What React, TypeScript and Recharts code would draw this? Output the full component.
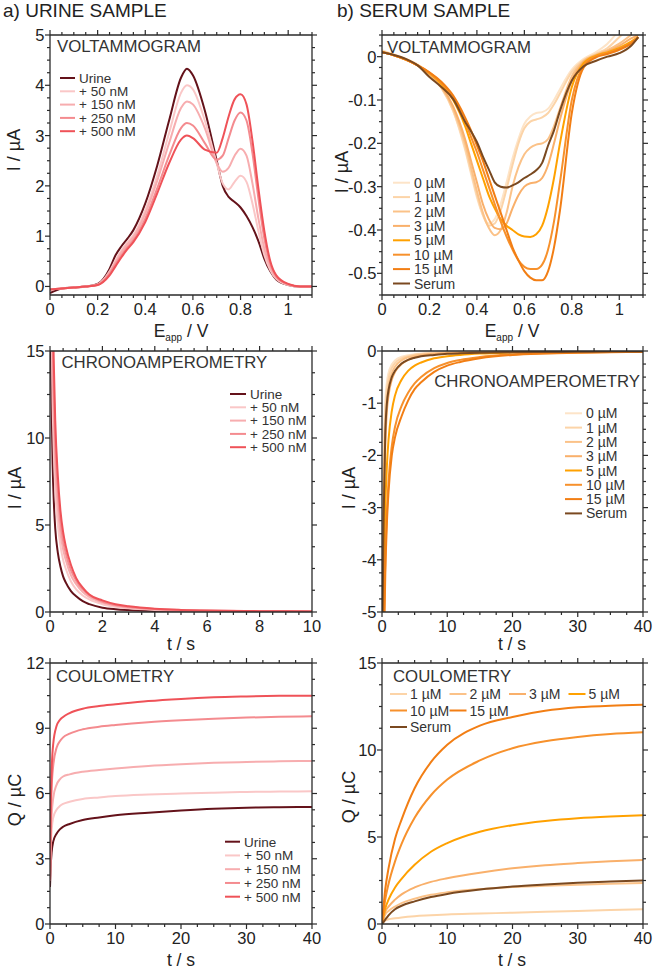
import React from 'react';
import { LineChart, Line, XAxis, YAxis } from 'recharts';

const FONT = "'Liberation Sans', Arial, Helvetica, sans-serif";
const AXIS = '#2a2a2a';
const TEXT = '#222222';

// ---------- names & colours ----------
const URINE_NAMES = ['Urine', '+ 50 nM', '+ 150 nM', '+ 250 nM', '+ 500 nM'];
const URINE_COLORS = ['#64121a', '#fac7c7', '#f7adaf', '#f48b8f', '#ef5258'];
const SERUM_NAMES = ['0 µM', '1 µM', '2 µM', '3 µM', '5 µM', '10 µM', '15 µM', 'Serum'];
const SERUM_COLORS = ['#fde4c8', '#fcd4a8', '#fbc288', '#f9b06b', '#ffa100', '#f7912c', '#f27e14', '#7a4920'];

// ---------- a) voltammogram (E / V, I / µA) ----------
const A1_X = [0, 0.05, 0.1, 0.15, 0.2, 0.25, 0.275, 0.3, 0.325, 0.35, 0.4, 0.45, 0.5, 0.55, 0.575, 0.6, 0.65, 0.7, 0.725, 0.75, 0.775, 0.8, 0.825, 0.85, 0.875, 0.9, 0.925, 0.95, 1, 1.05, 1.1];
const A1_URINE = [-0.13, -0.04, -0.02, 0.0, 0.05, 0.35, 0.62, 0.8, 0.95, 1.12, 1.65, 2.4, 3.3, 4.15, 4.33, 4.2, 3.5, 2.5, 2.0, 1.78, 1.68, 1.57, 1.4, 1.18, 0.9, 0.55, 0.3, 0.14, 0.03, 0.0, 0.0];
const A1_50 = [-0.06, -0.04, -0.02, 0.0, 0.04, 0.3, 0.52, 0.72, 0.88, 1.02, 1.52, 2.2, 3.05, 3.85, 4.0, 3.92, 3.3, 2.45, 2.05, 1.93, 2.08, 2.2, 2.08, 1.65, 1.1, 0.62, 0.32, 0.15, 0.03, 0.0, 0.0];
const A1_150 = [-0.06, -0.04, -0.02, 0.0, 0.04, 0.28, 0.48, 0.68, 0.84, 0.98, 1.45, 2.1, 2.85, 3.55, 3.68, 3.62, 3.15, 2.45, 2.28, 2.36, 2.6, 2.74, 2.6, 2.05, 1.35, 0.75, 0.38, 0.17, 0.04, 0.0, 0.0];
const A1_250 = [-0.06, -0.04, -0.02, 0.0, 0.03, 0.25, 0.44, 0.62, 0.78, 0.92, 1.35, 1.95, 2.6, 3.15, 3.25, 3.2, 2.85, 2.52, 2.6, 2.95, 3.3, 3.46, 3.3, 2.65, 1.75, 0.95, 0.45, 0.2, 0.04, 0.0, 0.0];
const A1_500 = [-0.06, -0.04, -0.02, 0.0, 0.03, 0.22, 0.4, 0.58, 0.74, 0.88, 1.28, 1.85, 2.45, 2.92, 3.0, 2.95, 2.72, 2.66, 2.95, 3.38, 3.72, 3.82, 3.62, 2.9, 1.95, 1.1, 0.5, 0.22, 0.05, 0.0, 0.0];

// ---------- b) voltammogram ----------
const B1_X = [0, 0.05, 0.1, 0.15, 0.2, 0.25, 0.3, 0.35, 0.375, 0.4, 0.425, 0.45, 0.475, 0.5, 0.525, 0.55, 0.575, 0.6, 0.625, 0.65, 0.675, 0.7, 0.725, 0.75, 0.8, 0.85, 0.9, 0.95, 1.0, 1.05, 1.08];
const B1_0 = [0.015, 0.005, -0.005, -0.018, -0.038, -0.07, -0.125, -0.215, -0.27, -0.325, -0.365, -0.385, -0.375, -0.34, -0.29, -0.235, -0.19, -0.155, -0.138, -0.13, -0.128, -0.12, -0.1, -0.075, -0.03, -0.005, 0.01, 0.03, 0.06, 0.08, 0.09];
const B1_1 = [0.012, 0.004, -0.006, -0.02, -0.04, -0.072, -0.125, -0.21, -0.265, -0.32, -0.365, -0.39, -0.385, -0.355, -0.305, -0.25, -0.2, -0.165, -0.15, -0.145, -0.14, -0.13, -0.11, -0.085, -0.035, -0.008, 0.006, 0.02, 0.045, 0.07, 0.08];
const B1_2 = [0.012, 0.004, -0.006, -0.02, -0.04, -0.07, -0.12, -0.2, -0.255, -0.31, -0.36, -0.395, -0.412, -0.4, -0.36, -0.3, -0.255, -0.225, -0.21, -0.203, -0.2, -0.19, -0.16, -0.12, -0.045, -0.01, 0.004, 0.015, 0.03, 0.05, 0.06];
const B1_3 = [0.01, 0.003, -0.007, -0.02, -0.04, -0.068, -0.115, -0.19, -0.24, -0.29, -0.34, -0.375, -0.395, -0.398, -0.385, -0.35, -0.32, -0.3, -0.292, -0.29, -0.28, -0.25, -0.2, -0.145, -0.055, -0.012, 0.003, 0.012, 0.025, 0.042, 0.05];
const B1_5 = [0.01, 0.003, -0.007, -0.02, -0.038, -0.063, -0.1, -0.16, -0.2, -0.24, -0.28, -0.32, -0.35, -0.375, -0.39, -0.4, -0.41, -0.415, -0.416, -0.41, -0.39, -0.345, -0.28, -0.2, -0.07, -0.015, 0.002, 0.01, 0.02, 0.035, 0.045];
const B1_10 = [0.01, 0.003, -0.007, -0.02, -0.037, -0.06, -0.095, -0.15, -0.185, -0.22, -0.26, -0.3, -0.34, -0.38, -0.415, -0.445, -0.47, -0.485, -0.49, -0.49, -0.48, -0.445, -0.38, -0.29, -0.1, -0.02, 0.0, 0.008, 0.018, 0.032, 0.045];
const B1_15 = [0.01, 0.003, -0.007, -0.02, -0.036, -0.058, -0.09, -0.14, -0.17, -0.205, -0.24, -0.28, -0.32, -0.36, -0.4, -0.44, -0.47, -0.495, -0.51, -0.516, -0.516, -0.495, -0.44, -0.355, -0.13, -0.025, -0.002, 0.006, 0.016, 0.03, 0.045];
const B1_SERUM = [0.01, 0.004, -0.005, -0.02, -0.047, -0.07, -0.098, -0.15, -0.172, -0.197, -0.23, -0.26, -0.29, -0.3, -0.302, -0.297, -0.29, -0.28, -0.272, -0.262, -0.245, -0.205, -0.17, -0.125, -0.055, -0.022, -0.01, 0.0, 0.008, 0.025, 0.045];

// ---------- a) chronoamperometry (t / s, I / µA) ----------
const A2_X = [0, 0.05, 0.1, 0.15, 0.2, 0.3, 0.4, 0.5, 0.6, 0.8, 1, 1.25, 1.5, 2, 2.5, 3, 4, 5, 6, 8, 10];
const A2_URINE = [20, 13, 8.5, 6.2, 4.8, 3.4, 2.6, 2.05, 1.7, 1.2, 0.9, 0.62, 0.45, 0.25, 0.16, 0.11, 0.06, 0.04, 0.03, 0.02, 0.015];
const A2_50 = [30, 18, 12, 9, 7, 5, 3.8, 3.0, 2.5, 1.75, 1.3, 0.95, 0.72, 0.45, 0.3, 0.21, 0.12, 0.08, 0.06, 0.04, 0.02];
const A2_150 = [34, 21, 14, 11, 8.5, 6, 4.5, 3.6, 3.0, 2.1, 1.6, 1.15, 0.87, 0.54, 0.36, 0.26, 0.15, 0.1, 0.07, 0.045, 0.025];
const A2_250 = [37, 23, 16, 12.5, 9.8, 7, 5.2, 4.1, 3.4, 2.4, 1.8, 1.3, 0.98, 0.6, 0.4, 0.3, 0.17, 0.11, 0.075, 0.048, 0.028];
const A2_500 = [40, 25, 18, 14, 11, 7.8, 5.8, 4.6, 3.8, 2.7, 1.95, 1.4, 1.0, 0.67, 0.45, 0.33, 0.19, 0.12, 0.08, 0.05, 0.03];

// ---------- b) chronoamperometry ----------
const B2_X = [0, 0.25, 0.5, 0.75, 1, 1.5, 2, 3, 4, 5, 6, 8, 10, 12, 15, 20, 25, 30, 35, 40];
const B2_0 = [-5.5, -2.2, -1.0, -0.6, -0.42, -0.26, -0.18, -0.11, -0.08, -0.06, -0.05, -0.035, -0.028, -0.022, -0.017, -0.012, -0.01, -0.008, -0.006, -0.005];
const B2_1 = [-5.5, -2.6, -1.2, -0.75, -0.53, -0.33, -0.23, -0.14, -0.1, -0.07, -0.055, -0.04, -0.03, -0.024, -0.018, -0.013, -0.01, -0.008, -0.006, -0.005];
const B2_2 = [-5.8, -3.0, -1.5, -0.95, -0.68, -0.43, -0.3, -0.18, -0.12, -0.09, -0.07, -0.05, -0.035, -0.028, -0.021, -0.015, -0.011, -0.009, -0.007, -0.006];
const B2_3 = [-6, -3.3, -1.8, -1.15, -0.85, -0.55, -0.4, -0.25, -0.17, -0.12, -0.09, -0.06, -0.045, -0.035, -0.026, -0.018, -0.013, -0.01, -0.008, -0.007];
const B2_5 = [-7, -4.5, -3.0, -2.2, -1.7, -1.15, -0.85, -0.55, -0.38, -0.28, -0.22, -0.14, -0.1, -0.075, -0.05, -0.03, -0.02, -0.015, -0.012, -0.01];
const B2_10 = [-7.5, -5.5, -4.0, -3.1, -2.5, -1.82, -1.45, -1.05, -0.8, -0.62, -0.5, -0.33, -0.23, -0.17, -0.115, -0.065, -0.042, -0.03, -0.02, -0.015];
const B2_15 = [-8, -6, -4.3, -3.3, -2.7, -2.0, -1.65, -1.25, -0.95, -0.73, -0.6, -0.4, -0.28, -0.21, -0.14, -0.075, -0.048, -0.032, -0.022, -0.016];
const B2_SERUM = [-6, -3.2, -1.6, -1.0, -0.75, -0.5, -0.38, -0.24, -0.17, -0.13, -0.1, -0.075, -0.055, -0.045, -0.035, -0.025, -0.02, -0.015, -0.01, -0.008];

// ---------- a) coulometry (t / s, Q / µC) ----------
const A3_X = [0, 0.1, 0.25, 0.5, 1, 1.5, 2, 3, 5, 7.5, 10, 15, 20, 25, 30, 35, 40];
const A3_URINE = [1.7, 2.6, 3.3, 3.8, 4.15, 4.35, 4.47, 4.6, 4.78, 4.9, 5.0, 5.12, 5.22, 5.3, 5.35, 5.37, 5.38];
const A3_50 = [2.0, 3.3, 4.3, 4.9, 5.25, 5.42, 5.52, 5.62, 5.75, 5.82, 5.88, 5.95, 6.0, 6.04, 6.07, 6.09, 6.1];
const A3_150 = [2.0, 3.8, 5.0, 5.8, 6.4, 6.65, 6.78, 6.88, 7.0, 7.08, 7.15, 7.27, 7.35, 7.41, 7.45, 7.48, 7.5];
const A3_250 = [2.0, 4.5, 6.2, 7.3, 8.1, 8.4, 8.58, 8.75, 8.95, 9.07, 9.15, 9.28, 9.37, 9.44, 9.49, 9.53, 9.55];
const A3_500 = [2.0, 5.0, 7.0, 8.3, 9.1, 9.38, 9.52, 9.7, 9.9, 10.02, 10.1, 10.25, 10.35, 10.42, 10.46, 10.49, 10.5];

// ---------- b) coulometry ----------
const B3_X = [0, 0.5, 1, 2, 3, 5, 7.5, 10, 15, 20, 25, 30, 35, 40];
const B3_1 = [0, 0.2, 0.27, 0.33, 0.38, 0.45, 0.5, 0.55, 0.6, 0.65, 0.7, 0.75, 0.8, 0.85];
const B3_2 = [0, 0.55, 0.75, 1.0, 1.2, 1.45, 1.68, 1.82, 2.0, 2.12, 2.2, 2.26, 2.31, 2.35];
const B3_3 = [0, 0.7, 1.0, 1.4, 1.7, 2.1, 2.42, 2.63, 2.95, 3.2, 3.38, 3.5, 3.6, 3.68];
const B3_5 = [0, 0.9, 1.4, 2.1, 2.6, 3.4, 4.15, 4.65, 5.3, 5.68, 5.92, 6.08, 6.18, 6.25];
const B3_10 = [0, 1.4, 2.3, 3.6, 4.6, 6.1, 7.4, 8.3, 9.4, 10.1, 10.5, 10.75, 10.92, 11.02];
const B3_15 = [0, 2.0, 3.2, 4.9, 6.0, 7.8, 9.3, 10.3, 11.4, 11.9, 12.25, 12.45, 12.55, 12.6];
const B3_SERUM = [0, 0.25, 0.5, 0.85, 1.05, 1.3, 1.55, 1.73, 1.98, 2.15, 2.27, 2.37, 2.44, 2.5];

// ---------- tick labels (major) ----------
const A1_XMAJ = [0, 0.2, 0.4, 0.6, 0.8, 1];
const A1_YMAJ = [0, 1, 2, 3, 4, 5];
const B1_YMAJ = [-0.5, -0.4, -0.3, -0.2, -0.1, 0];
const A2_XMAJ = [0, 2, 4, 6, 8, 10];
const A2_YMAJ = [0, 5, 10, 15];
const T40_MAJ = [0, 10, 20, 30, 40];
const B2_YMAJ = [-5, -4, -3, -2, -1, 0];
const A3_YMAJ = [0, 3, 6, 9, 12];
const B3_YMAJ = [0, 5, 10, 15];

type Series = { name: string; color: string; values: number[] };

function minorTicks(lo: number, hi: number, step: number): number[] {
  const out: number[] = [];
  const start = Math.ceil(lo / step - 1e-9);
  const end = Math.floor(hi / step + 1e-9);
  for (let i = start; i <= end; i++) out.push(Number((i * step).toFixed(6)));
  return out;
}

const fmt = (v: number) => String(Number(v.toFixed(3)));
const TICK_FS = 16.5;

function makeTick(side: 'left' | 'right' | 'top' | 'bottom', majors: number[], labels: boolean) {
  return (props: any) => {
    const x = Number(props.x);
    const y = Number(props.y);
    const v = Number(props.payload?.value);
    const major = majors.some((m) => Math.abs(m - v) < 1e-6);
    const len = major ? 5 : 3;
    let line: any;
    let label: any = null;
    if (side === 'left') {
      line = <line x1={x - len} x2={x} y1={y} y2={y} stroke={AXIS} strokeWidth={1.2} />;
      if (major && labels)
        label = (
          <text x={x - 5.5} y={y} dy="0.36em" textAnchor="end" fontSize={TICK_FS} fill={TEXT} fontFamily={FONT}>
            {fmt(v)}
          </text>
        );
    } else if (side === 'right') {
      line = <line x1={x} x2={x + len} y1={y} y2={y} stroke={AXIS} strokeWidth={1.2} />;
    } else if (side === 'bottom') {
      line = <line x1={x} x2={x} y1={y} y2={y + len} stroke={AXIS} strokeWidth={1.2} />;
      if (major && labels)
        label = (
          <text x={x} y={y + 19.5} textAnchor="middle" fontSize={TICK_FS} fill={TEXT} fontFamily={FONT}>
            {fmt(v)}
          </text>
        );
    } else {
      line = <line x1={x} x2={x} y1={y - len} y2={y} stroke={AXIS} strokeWidth={1.2} />;
    }
    return (
      <g>
        {line}
        {label}
      </g>
    );
  };
}

type PanelProps = {
  plotLeft: number;
  plotTop: number;
  plotW: number;
  plotH: number;
  xs: number[];
  series: Series[];
  xDomain: [number, number];
  yDomain: [number, number];
  xMajors: number[];
  xStep: number;
  yMajors: number[];
  yStep: number;
};

function Panel(p: PanelProps) {
  const rows = p.xs.map((x, i) => {
    const r: any = { x };
    p.series.forEach((s, j) => {
      r['s' + j] = s.values[i];
    });
    return r;
  });
  const xTicks = minorTicks(p.xDomain[0], p.xDomain[1], p.xStep);
  const yTicks = minorTicks(p.yDomain[0], p.yDomain[1], p.yStep);
  const axisLine = { stroke: AXIS, strokeWidth: 1.3 };
  const common = {
    type: 'number' as const,
    allowDataOverflow: true,
    interval: 0 as const,
    tickSize: 0,
    tickMargin: 0,
    tickLine: false,
    axisLine,
  };
  return (
    <div style={{ position: 'absolute', left: p.plotLeft - 50, top: p.plotTop - 35 }}>
      <LineChart
        width={50 + p.plotW + 16}
        height={35 + p.plotH + 30}
        data={rows}
        margin={{ top: 20, right: 0, bottom: 0, left: 0 }}
      >
        <XAxis {...common} xAxisId="b" dataKey="x" orientation="bottom" height={30}
          domain={p.xDomain} ticks={xTicks} tick={makeTick('bottom', p.xMajors, true)} />
        <XAxis {...common} xAxisId="t" dataKey="x" orientation="top" height={15}
          domain={p.xDomain} ticks={xTicks} tick={makeTick('top', p.xMajors, false)} />
        <YAxis {...common} yAxisId="l" orientation="left" width={50}
          domain={p.yDomain} ticks={yTicks} tick={makeTick('left', p.yMajors, true)} />
        <YAxis {...common} yAxisId="r" orientation="right" width={16}
          domain={p.yDomain} ticks={yTicks} tick={makeTick('right', p.yMajors, false)} />
        {p.series.map((s, j) => (
          <Line
            key={s.name}
            xAxisId="b"
            yAxisId="l"
            type="monotone"
            dataKey={'s' + j}
            name={s.name}
            stroke={s.color}
            strokeWidth={2}
            dot={false}
            activeDot={false}
            isAnimationActive={false}
          />
        ))}
      </LineChart>
    </div>
  );
}

function VLegend(props: { series: Series[]; x: number; y0: number; dy: number; len: number; fs: number }) {
  const { series, x, y0, dy, len, fs } = props;
  return (
    <g>
      {series.map((s, i) => (
        <g key={s.name}>
          <line x1={x} x2={x + len} y1={y0 + i * dy} y2={y0 + i * dy} stroke={s.color} strokeWidth={2} />
          <text x={x + len + 4} y={y0 + i * dy} dy="0.36em" fontSize={fs} fill="#333" fontFamily={FONT}>
            {s.name}
          </text>
        </g>
      ))}
    </g>
  );
}

function GridLegend(props: { series: Series[]; pos: number[][]; cols: number[]; rows: number[]; len: number; fs: number }) {
  const { series, pos, cols, rows, len, fs } = props;
  return (
    <g>
      {series.map((s, i) => {
        const x = cols[pos[i][0]];
        const y = rows[pos[i][1]];
        return (
          <g key={s.name}>
            <line x1={x} x2={x + len} y1={y} y2={y} stroke={s.color} strokeWidth={2} />
            <text x={x + len + 3} y={y} dy="0.36em" fontSize={fs} fill="#333" fontFamily={FONT}>
              {s.name}
            </text>
          </g>
        );
      })}
    </g>
  );
}

function mk(names: string[], colors: string[], values: number[][]): Series[] {
  return names.map((n, i) => ({ name: n, color: colors[i], values: values[i] }));
}

const A1_SERIES = mk(URINE_NAMES, URINE_COLORS, [A1_URINE, A1_50, A1_150, A1_250, A1_500]);
const A2_SERIES = mk(URINE_NAMES, URINE_COLORS, [A2_URINE, A2_50, A2_150, A2_250, A2_500]);
const A3_SERIES = mk(URINE_NAMES, URINE_COLORS, [A3_URINE, A3_50, A3_150, A3_250, A3_500]);
const B1_SERIES = mk(SERUM_NAMES, SERUM_COLORS, [B1_0, B1_1, B1_2, B1_3, B1_5, B1_10, B1_15, B1_SERUM]);
const B2_SERIES = mk(SERUM_NAMES, SERUM_COLORS, [B2_0, B2_1, B2_2, B2_3, B2_5, B2_10, B2_15, B2_SERUM]);
const B3_SERIES = mk(SERUM_NAMES.slice(1), SERUM_COLORS.slice(1), [B3_1, B3_2, B3_3, B3_5, B3_10, B3_15, B3_SERUM]);

function YTitle(props: { cx: number; cy: number; text: string }) {
  return (
    <text
      transform={`translate(${props.cx},${props.cy}) rotate(-90)`}
      textAnchor="middle"
      dy="0.36em"
      fontSize={18}
      fill={TEXT}
      fontFamily={FONT}
    >
      {props.text}
    </text>
  );
}

function ETitle(props: { cx: number; y: number }) {
  return (
    <text x={props.cx} y={props.y} textAnchor="middle" fontSize={17.5} fill={TEXT} fontFamily={FONT}>
      <tspan>E</tspan>
      <tspan fontSize={10} dy={4}>
        app
      </tspan>
      <tspan dy={-4}> / V</tspan>
    </text>
  );
}

function TTitle(props: { cx: number; y: number }) {
  return (
    <text x={props.cx} y={props.y} textAnchor="middle" fontSize={17.5} fill={TEXT} fontFamily={FONT}>
      t / s
    </text>
  );
}

export default function App() {
  const L = 50;
  const R = 382;
  return (
    <div
      style={{
        position: 'absolute',
        left: 0,
        top: 0,
        width: 656,
        height: 969,
        background: '#ffffff',
        fontFamily: FONT,
        overflow: 'hidden',
      }}
    >
      <Panel plotLeft={L} plotTop={35} plotW={262} plotH={260} xs={A1_X} series={A1_SERIES}
        xDomain={[0, 1.1]} yDomain={[-0.17, 5]} xMajors={A1_XMAJ} xStep={0.05} yMajors={A1_YMAJ} yStep={0.25} />
      <Panel plotLeft={R} plotTop={35} plotW={261} plotH={260} xs={B1_X} series={B1_SERIES}
        xDomain={[0, 1.1]} yDomain={[-0.55, 0.05]} xMajors={A1_XMAJ} xStep={0.05} yMajors={B1_YMAJ} yStep={0.025} />
      <Panel plotLeft={L} plotTop={351} plotW={262} plotH={261} xs={A2_X} series={A2_SERIES}
        xDomain={[0, 10]} yDomain={[0, 15]} xMajors={A2_XMAJ} xStep={0.5} yMajors={A2_YMAJ} yStep={1.25} />
      <Panel plotLeft={R} plotTop={351} plotW={261} plotH={261} xs={B2_X} series={B2_SERIES}
        xDomain={[0, 40]} yDomain={[-5, 0]} xMajors={T40_MAJ} xStep={2.5} yMajors={B2_YMAJ} yStep={0.25} />
      <Panel plotLeft={L} plotTop={663} plotW={262} plotH={261} xs={A3_X} series={A3_SERIES}
        xDomain={[0, 40]} yDomain={[0, 12]} xMajors={T40_MAJ} xStep={2.5} yMajors={A3_YMAJ} yStep={0.75} />
      <Panel plotLeft={R} plotTop={663} plotW={261} plotH={261} xs={B3_X} series={B3_SERIES}
        xDomain={[0, 40]} yDomain={[0, 15]} xMajors={T40_MAJ} xStep={2.5} yMajors={B3_YMAJ} yStep={1.25} />

      <svg
        width={656}
        height={969}
        style={{ position: 'absolute', left: 0, top: 0, pointerEvents: 'none' }}
      >
        <text x={3} y={17} fontSize={19} fill={TEXT} fontFamily={FONT}>a) URINE SAMPLE</text>
        <text x={337} y={17} fontSize={19} fill={TEXT} fontFamily={FONT}>b) SERUM SAMPLE</text>

        <text x={57} y={51.7} fontSize={16.8} fill="#333" fontFamily={FONT}>VOLTAMMOGRAM</text>
        <text x={387} y={52.5} fontSize={16.8} fill="#333" fontFamily={FONT}>VOLTAMMOGRAM</text>
        <text x={61.5} y={368} fontSize={16.8} fill="#333" fontFamily={FONT}>CHRONOAMPEROMETRY</text>
        <text x={640} y={387} textAnchor="end" fontSize={16.8} fill="#333" fontFamily={FONT}>CHRONOAMPEROMETRY</text>
        <text x={56} y={682} fontSize={16.8} fill="#333" fontFamily={FONT}>COULOMETRY</text>
        <text x={393} y={682} fontSize={16.8} fill="#333" fontFamily={FONT}>COULOMETRY</text>

        <YTitle cx={14} cy={150} text="I / µA" />
        <YTitle cx={15} cy={488} text="I / µA" />
        <YTitle cx={15} cy={800} text="Q / µC" />
        <YTitle cx={342} cy={172} text="I / µA" />
        <YTitle cx={349} cy={488} text="I / µA" />
        <YTitle cx={349} cy={797} text="Q / µC" />

        <ETitle cx={181} y={336.5} />
        <ETitle cx={512} y={336.5} />
        <TTitle cx={181} y={650} />
        <TTitle cx={512} y={650} />
        <TTitle cx={181} y={966} />
        <TTitle cx={512} y={966} />

        <VLegend series={A1_SERIES} x={60} y0={78} dy={13.3} len={15} fs={13.5} />
        <VLegend series={A2_SERIES} x={230} y0={394} dy={13.3} len={16} fs={13.5} />
        <VLegend series={A3_SERIES} x={225} y0={841.7} dy={13.75} len={15} fs={13.5} />
        <VLegend series={B1_SERIES} x={393} y0={182.7} dy={14.4} len={17} fs={14} />
        <VLegend series={B2_SERIES} x={565} y0={413.3} dy={14.3} len={17} fs={14} />
        <GridLegend
          series={B3_SERIES}
          pos={[[0, 0], [1, 0], [2, 0], [3, 0], [0, 1], [1, 1], [0, 2]]}
          cols={[390, 449.5, 509, 568.5]}
          rows={[694, 710.5, 727]}
          len={17}
          fs={14}
        />
      </svg>
    </div>
  );
}
